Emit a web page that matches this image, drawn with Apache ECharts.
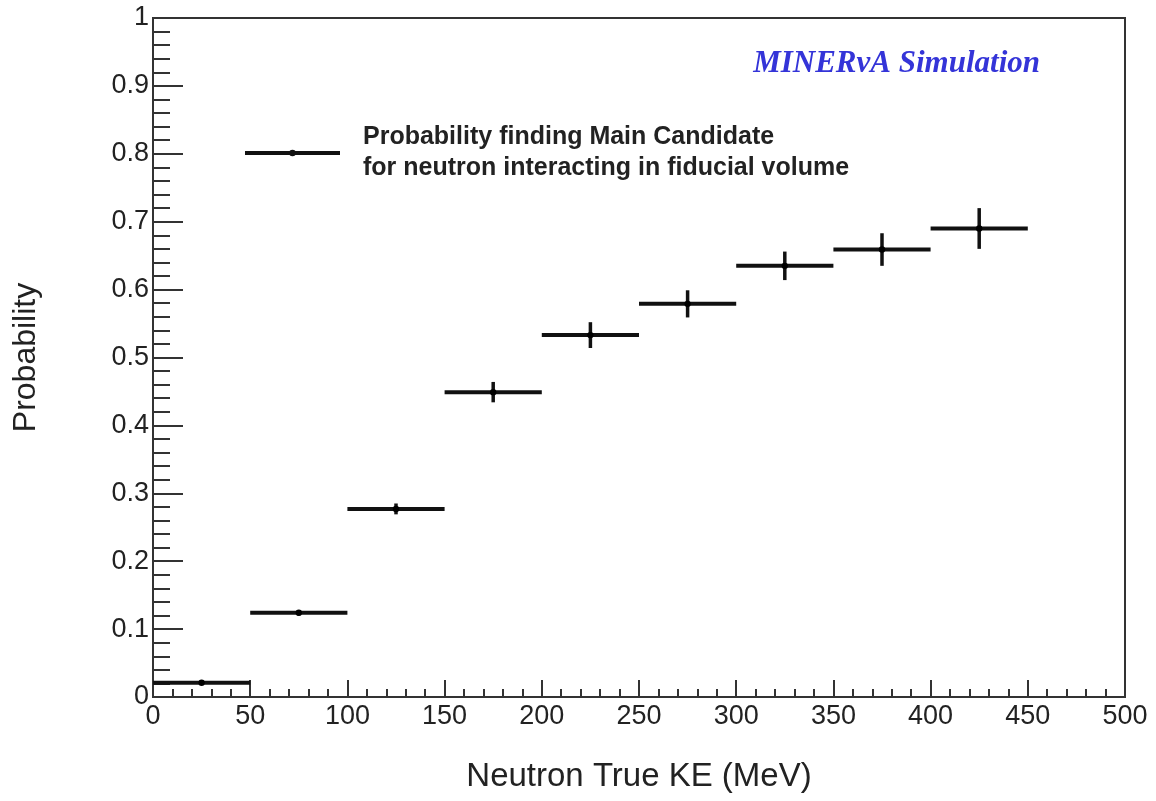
<!DOCTYPE html>
<html>
<head>
<meta charset="utf-8">
<title></title>
<script src="https://cdn.jsdelivr.net/npm/echarts@6/dist/echarts.min.js"></script>
<style>
  html, body { margin: 0; padding: 0; background: #fff; }
  #main { width: 1156px; height: 801px; }
</style>
</head>
<body>
<div id="main"></div>
<script type="text/javascript">
// bin centres (MeV), bin half width, probability and stat error
var binCenters = [25, 75, 125, 175, 225, 275, 325, 375, 425];
var binHalf = 25;
var probs = [0.021, 0.124, 0.277, 0.449, 0.533, 0.579, 0.635, 0.659, 0.690];
var errs = [0.003, 0.004, 0.008, 0.015, 0.019, 0.020, 0.021, 0.024, 0.030];
var legendLabel = 'Probability finding Main Candidate\nfor neutron interacting in fiducial volume';

var myChart = echarts.init(document.getElementById('main'));

var seriesData = [];
for (var i = 0; i < binCenters.length; i++) {
  seriesData.push([binCenters[i], probs[i], errs[i]]);
}

// one histogram bin: horizontal bar over the bin + vertical error bar + dot
function renderBin(params, api) {
  var x = api.value(0), y = api.value(1), e = api.value(2);
  var left = api.coord([x - binHalf, y]);
  var right = api.coord([x + binHalf, y]);
  var top = api.coord([x, y + e]);
  var bot = api.coord([x, y - e]);
  var mid = api.coord([x, y]);
  return {
    type: 'group',
    children: [
      { type: 'line', shape: { x1: left[0], y1: left[1], x2: right[0], y2: right[1] }, style: { stroke: '#111', lineWidth: 4 } },
      { type: 'line', shape: { x1: top[0], y1: top[1], x2: bot[0], y2: bot[1] }, style: { stroke: '#111', lineWidth: 3.5 } },
      { type: 'circle', shape: { cx: mid[0], cy: mid[1], r: 3.2 }, style: { fill: '#000' } }
    ]
  };
}

var option = {
  animation: false,
  backgroundColor: '#fff',
  textStyle: { fontFamily: 'Liberation Sans, Arial, sans-serif' },
  title: {
    text: 'MINERνA Simulation',
    right: 111,
    top: 43,
    textStyle: {
      fontFamily: 'Liberation Serif, Times New Roman, serif',
      fontStyle: 'italic',
      fontWeight: 'bold',
      fontSize: 31,
      color: '#3434d8'
    }
  },
  legend: {
    left: 245,
    top: 122,
    padding: 0,
    itemWidth: 95,
    itemHeight: 7,
    selectedMode: false,
    data: [{
      name: legendLabel,
      icon: 'path://M0,1.5L100,1.5L100,5.5L0,5.5Z M46.5,3.5A3.5,3.5 0 1,1 53.5,3.5A3.5,3.5 0 1,1 46.5,3.5Z',
      itemStyle: { color: '#111' }
    }],
    textStyle: {
      fontSize: 25,
      fontWeight: 'bold',
      color: '#222',
      lineHeight: 31,
      padding: [0, 0, 0, 18]
    }
  },
  grid: {
    left: 153,
    right: 31,
    top: 18,
    bottom: 104,
    show: true,
    borderColor: '#333',
    borderWidth: 2,
    backgroundColor: 'transparent'
  },
  xAxis: {
    type: 'value',
    min: 0,
    max: 500,
    interval: 50,
    name: 'Neutron True KE (MeV)',
    nameLocation: 'middle',
    nameGap: 63,
    nameTextStyle: { fontSize: 33, color: '#222' },
    axisLine: { lineStyle: { color: '#333', width: 2 } },
    axisTick: { inside: true, length: 17, lineStyle: { color: '#333', width: 2 } },
    minorTick: { show: true, splitNumber: 5, length: 8, lineStyle: { color: '#333', width: 2 } },
    axisLabel: { fontSize: 27, color: '#222', margin: 6 },
    splitLine: { show: false }
  },
  yAxis: {
    type: 'value',
    min: 0,
    max: 1,
    interval: 0.1,
    name: 'Probability',
    nameLocation: 'middle',
    nameGap: 111,
    nameRotate: 90,
    nameTextStyle: { fontSize: 32, color: '#222' },
    axisLine: { lineStyle: { color: '#333', width: 2 } },
    axisTick: { inside: true, length: 30, lineStyle: { color: '#333', width: 2 } },
    minorTick: { show: true, splitNumber: 5, length: 17, lineStyle: { color: '#333', width: 2 } },
    axisLabel: { fontSize: 27, color: '#222', margin: 4 },
    splitLine: { show: false }
  },
  series: [{
    name: legendLabel,
    type: 'custom',
    renderItem: renderBin,
    encode: { x: 0, y: 1 },
    itemStyle: { color: '#111' },
    data: seriesData
  }]
};
myChart.setOption(option);
</script>
</body>
</html>
